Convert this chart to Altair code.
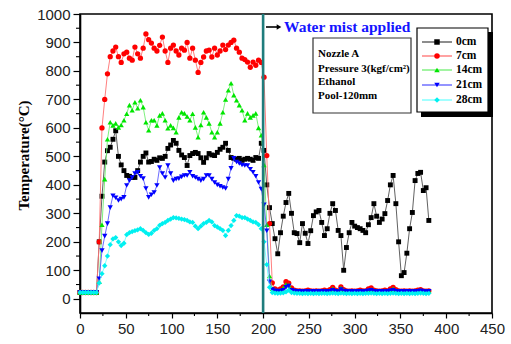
import altair as alt
import pandas as pd

# ---------------- data ----------------
time_s = list(range(0, 382, 3))  # sample times (s)

temp_0cm = [22, 22, 22, 22, 22, 22, 22, 200, 360, 480,
            520, 532, 560, 590, 500, 470, 450, 433, 430, 426,
            426, 450, 480, 500, 512, 480, 482, 490, 486, 495,
            493, 500, 528, 540, 556, 546, 521, 505, 496, 468,
            503, 510, 514, 510, 495, 479, 495, 510, 505, 503,
            514, 525, 532, 546, 521, 496, 493, 490, 493, 486,
            490, 493, 490, 486, 496, 493, 546, 521, 400, 320,
            264, 211, 158, 232, 290, 338, 370, 300, 232, 229,
            197, 264, 230, 194, 239, 292, 305, 310, 268, 222,
            246, 300, 334, 310, 240, 222, 100, 180, 232, 268,
            255, 250, 246, 240, 232, 260, 285, 334, 290, 268,
            280, 299, 345, 400, 433, 334, 200, 81, 92, 160,
            246, 303, 415, 440, 444, 380, 390, 275]

temp_7cm = [22, 22, 22, 22, 22, 22, 22, 200, 600, 700,
            790, 850, 870, 884, 850, 830, 860, 866, 845, 838,
            884, 860, 845, 880, 930, 910, 898, 880, 870, 890,
            919, 870, 830, 880, 891, 870, 856, 880, 873, 900,
            845, 880, 838, 795, 830, 849, 870, 873, 849, 880,
            856, 870, 891, 875, 891, 900, 908, 880, 866, 845,
            840, 831, 813, 831, 820, 838, 830, 778, 503, 264,
            56, 35, 30, 35, 42, 60, 55, 38, 30, 28,
            28, 27, 28, 30, 28, 27, 28, 27, 28, 30,
            28, 32, 40, 30, 28, 42, 32, 28, 27, 28,
            27, 28, 30, 28, 28, 35, 38, 30, 28, 27,
            28, 30, 28, 35, 40, 32, 28, 27, 28, 27,
            28, 27, 28, 30, 32, 28, 27, 28]

temp_14cm = [22, 22, 22, 22, 22, 22, 22, 60, 260, 420,
             560, 620, 609, 616, 602, 610, 627, 650, 680, 662,
             690, 669, 697, 673, 620, 592, 627, 627, 609, 644,
             651, 627, 599, 609, 600, 585, 637, 655, 651, 640,
             627, 650, 602, 567, 610, 655, 637, 616, 585, 567,
             585, 616, 655, 700, 732, 757, 715, 697, 680, 662,
             627, 651, 637, 644, 651, 600, 574, 470, 260, 80,
             35, 30, 28, 30, 38, 50, 48, 32, 28, 27,
             27, 26, 27, 28, 27, 26, 27, 28, 27, 28,
             27, 28, 35, 28, 27, 38, 30, 27, 26, 27,
             27, 27, 28, 27, 27, 30, 32, 28, 27, 26,
             27, 28, 27, 30, 35, 28, 27, 26, 27, 26,
             27, 26, 27, 28, 30, 27, 26, 27]

temp_21cm = [22, 22, 22, 22, 22, 22, 22, 70, 169, 220,
             264, 320, 362, 355, 345, 350, 356, 398, 415, 426,
             440, 444, 430, 422, 387, 356, 365, 373, 398, 461,
             440, 426, 468, 440, 415, 420, 422, 428, 433, 433,
             444, 430, 426, 420, 415, 420, 433, 433, 420, 408,
             400, 395, 391, 387, 420, 458, 493, 480, 475, 470,
             468, 468, 455, 444, 430, 408, 385, 330, 239, 60,
             32, 28, 26, 27, 30, 40, 45, 30, 27, 26,
             26, 25, 26, 26, 25, 26, 25, 26, 26, 25,
             26, 26, 30, 26, 25, 32, 27, 26, 25, 26,
             25, 26, 26, 25, 26, 28, 30, 26, 25, 26,
             26, 25, 26, 28, 30, 26, 25, 26, 25, 26,
             26, 25, 26, 26, 28, 26, 25, 26]

temp_28cm = [22, 22, 22, 22, 22, 22, 22, 55, 88, 116,
             150, 190, 210, 215, 200, 187, 195, 225, 232, 236,
             239, 242, 246, 240, 232, 226, 230, 240, 246, 258,
             264, 268, 275, 280, 285, 284, 282, 280, 278, 275,
             270, 268, 255, 246, 255, 264, 268, 275, 270, 257,
             252, 246, 240, 222, 240, 257, 275, 292, 290, 285,
             285, 280, 275, 270, 268, 260, 246, 200, 120, 40,
             22, 20, 19, 20, 21, 24, 30, 22, 20, 19,
             19, 18, 19, 18, 19, 18, 19, 18, 19, 19,
             18, 19, 20, 19, 18, 20, 19, 18, 19, 18,
             19, 18, 19, 18, 19, 19, 20, 19, 18, 19,
             18, 19, 18, 19, 20, 19, 18, 19, 18, 19,
             18, 19, 18, 19, 20, 19, 18, 19]

series_names = ["0cm", "7cm", "14cm", "21cm", "28cm"]
series_values = [temp_0cm, temp_7cm, temp_14cm, temp_21cm, temp_28cm]

x_ticks = list(range(0, 451, 50))
y_ticks = list(range(0, 1001, 100))
x_minor = list(range(25, 450, 50))
y_minor = list(range(50, 1000, 100))

mist_time = [200]
info_lines = ["Nozzle A", "Pressure 3(kgf/cm\u00b2)", "Ethanol", "Pool-120mm"]

# ---------------- styles ----------------
marker_colors = ["#000000", "#ff0000", "#00e600", "#0000ff", "#00f0f0"]
line_colors = ["#505050", "#ff7070", "#70ee70", "#5a5aff", "#70ffff"]
shapes = ["square", "circle", "triangle-up", "triangle-down", "diamond"]
sizes = [24, 28, 28, 28, 28]

W, H = 412, 299
xs = alt.Scale(domain=[0, 450], nice=False, zero=False)
ys = alt.Scale(domain=[-50, 1000], nice=False, zero=False)

x_axis = alt.Axis(values=x_ticks, tickSize=5, tickWidth=1.2, labelPadding=3,
                  domainWidth=1.6, labelFlush=False, labelOverlap=False,
                  labelFontSize=15, format="d", title=None)
y_axis = alt.Axis(values=y_ticks, tickSize=7, tickWidth=1.2, labelPadding=3,
                  domainWidth=1.6, labelFlush=False, labelOverlap=False,
                  labelFontSize=15, format="d",
                  title="Temperature(\u00b0C)", titleFont="Liberation Serif",
                  titleFontWeight="bold", titleFontSize=15, titleColor="black",
                  titleX=-57, titleY=141, titleAngle=270, titleAlign="center",
                  titleBaseline="middle")

X = alt.X("t:Q", scale=xs, axis=x_axis)
Y = alt.Y("v:Q", scale=ys, axis=y_axis)

one = pd.DataFrame({"a": [0]})
layers = []

# minor ticks
layers.append(alt.Chart(pd.DataFrame({"t": x_minor})).mark_rule(color="black", strokeWidth=1.1)
              .encode(x=X, y=alt.value(H), y2=alt.value(H + 3)))
layers.append(alt.Chart(pd.DataFrame({"v": y_minor})).mark_rule(color="black", strokeWidth=1.1)
              .encode(y=Y, x=alt.value(0), x2=alt.value(-4)))

# data series
for name, vals, mc, lc, sh, sz in zip(series_names, series_values, marker_colors,
                                      line_colors, shapes, sizes):
    df = pd.DataFrame({"t": time_s, "v": vals})
    base = alt.Chart(df)
    layers.append(base.mark_line(color=lc, strokeWidth=0.9).encode(x=X, y=Y))
    layers.append(base.mark_point(shape=sh, filled=True, color=mc, size=sz, opacity=1)
                  .encode(x=X, y=Y))

# water mist line
layers.append(alt.Chart(pd.DataFrame({"t": mist_time})).mark_rule(color="#1f7d7d", strokeWidth=2.6)
              .encode(x=X))

# arrow + label
layers.append(alt.Chart(one).mark_rule(color="black", strokeWidth=1.6)
              .encode(x=alt.value(186), x2=alt.value(199), y=alt.value(13)))
layers.append(alt.Chart(one).mark_point(shape="triangle-right", filled=True, color="black",
                                         size=28, opacity=1)
              .encode(x=alt.value(199), y=alt.value(13)))
layers.append(alt.Chart(pd.DataFrame({"s": ["Water mist applied"]}))
              .mark_text(align="left", baseline="middle", font="Liberation Serif",
                         fontWeight="bold", fontSize=15.5, color="#1414ff")
              .encode(x=alt.value(204), y=alt.value(13), text="s:N"))

# info box
layers.append(alt.Chart(one).mark_rect(fill="white", stroke="#333333", strokeWidth=1.2)
              .encode(x=alt.value(233), x2=alt.value(331), y=alt.value(24), y2=alt.value(99)))
info_y = [40, 55, 68, 82]
for line, yy in zip(info_lines, info_y):
    layers.append(alt.Chart(pd.DataFrame({"s": [line]}))
                  .mark_text(align="left", baseline="middle", font="Liberation Serif",
                             fontWeight="bold", fontSize=11, color="black")
                  .encode(x=alt.value(238), y=alt.value(yy), text="s:N"))

# legend box with shadow
layers.append(alt.Chart(one).mark_rect(fill="black")
              .encode(x=alt.value(341), x2=alt.value(413), y=alt.value(18), y2=alt.value(103)))
layers.append(alt.Chart(one).mark_rect(fill="white", stroke="black", strokeWidth=1.2)
              .encode(x=alt.value(337), x2=alt.value(408), y=alt.value(14), y2=alt.value(98)))
leg_y = [28, 42, 56, 71, 86]
for name, mc, lc, sh, yy in zip(series_names, marker_colors, line_colors, shapes, leg_y):
    layers.append(alt.Chart(one).mark_rule(color=lc, strokeWidth=1.3)
                  .encode(x=alt.value(342), x2=alt.value(372), y=alt.value(yy)))
    layers.append(alt.Chart(one).mark_point(shape=sh, filled=True, color=mc, size=30, opacity=1)
                  .encode(x=alt.value(357), y=alt.value(yy)))
    layers.append(alt.Chart(pd.DataFrame({"s": [name]}))
                  .mark_text(align="left", baseline="middle", font="Liberation Serif",
                             fontWeight="bold", fontSize=11.5, color="black")
                  .encode(x=alt.value(376), y=alt.value(yy), text="s:N"))

chart = (
    alt.layer(*layers)
    .properties(width=W, height=H,
                padding={"left": 80, "top": 14, "right": 19, "bottom": 31},
                autosize=alt.AutoSizeParams(type="none"),
                background="white")
    .configure_view(stroke="black", strokeWidth=1.6)
    .configure_axis(grid=False, domainColor="black", tickColor="black",
                    labelFont="Liberation Sans", labelColor="#222222")
)

chart.save("out.html", embed_options={"renderer": "svg", "actions": False})
